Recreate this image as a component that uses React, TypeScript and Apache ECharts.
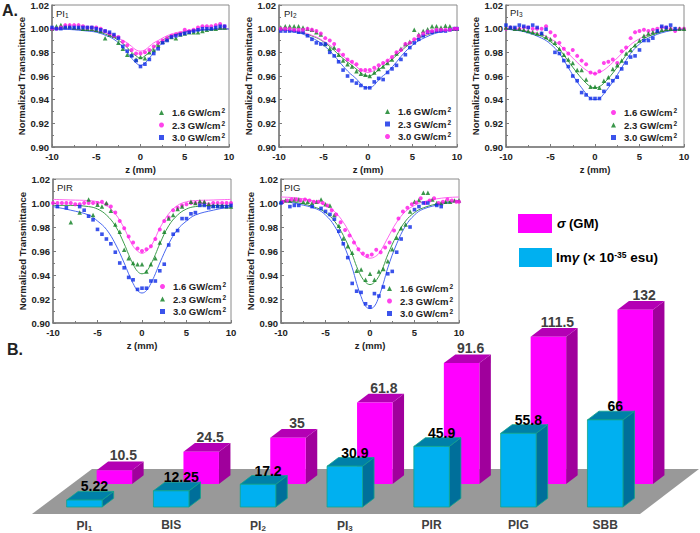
import React, { useEffect, useRef } from "react";
import * as echarts from "echarts";

// z positions (mm)
const Z = [-10,-9.5,-9,-8.5,-8,-7.5,-7,-6.5,-6,-5.5,-5,-4.5,-4,-3.5,-3,-2.5,-2,-1.5,-1,-0.5,0,0.5,1,1.5,2,2.5,3,3.5,4,4.5,5,5.5,6,6.5,7,7.5,8,8.5,9,9.5,10];
const ZS = [-9.8,-9.3,-8.8,-8.3,-7.8,-7.3,-6.8,-6.3,-5.8,-5.3,-4.8,-4.3,-3.8,-3.3,-2.8,-2.3,-1.8,-1.3,-0.8,-0.3,0.2,0.7,1.2,1.7,2.2,2.7,3.2,3.7,4.2,4.7,5.2,5.7,6.2,6.7,7.2,7.7,8.2,8.7,9.2,9.7,10];
const FIT_Z = [0,0.5,1,1.5,2,3,4,5,6,8,10];
const N = null;

const p1Green = [1.000,1.002,1.003,1.002,1.002,1.001,1.001,1.000,1.000,1.000,0.999,0.998,0.992,0.995,0.994,0.988,0.983,0.978,0.978,0.974,0.976,0.975,0.980,0.982,0.986,0.989,0.991,0.993,0.992,0.995,0.996,0.997,0.997,0.997,0.998,0.999,1.000,1.000,1.001,1.001,N];
const p1Magenta = [1.000,1.000,1.001,1.003,1.003,1.003,1.003,1.002,1.001,1.001,1.001,1.000,0.998,0.996,0.994,0.993,0.989,0.986,0.982,0.979,0.979,0.980,0.982,0.985,0.988,0.990,0.992,0.994,0.995,0.996,0.999,0.998,0.999,1.001,1.002,1.002,1.002,1.003,1.004,1.002,N];
const p1Blue = [1.001,1.000,1.000,1.001,1.001,1.001,1.001,1.001,1.001,1.001,1.000,0.999,0.998,0.997,0.995,0.992,0.985,0.981,0.977,0.973,0.968,0.970,0.974,0.979,0.983,0.988,0.990,0.993,0.994,0.995,0.996,0.997,0.998,0.999,1.000,1.000,1.000,1.001,1.002,1.002,N];
const p1FitGreen = [0.975,0.977,0.980,0.984,0.9875,0.9925,0.9955,0.9975,0.9985,0.9995,0.9998];
const p1FitMagenta = [0.981,0.982,0.985,0.988,0.990,0.994,0.9965,0.998,0.9988,0.9996,1.000];
const p1FitBlue = [0.969,0.971,0.975,0.980,0.9845,0.991,0.9945,0.997,0.998,0.9993,0.9998];

const p2Green = [1.001,1.002,1.002,1.002,1.002,1.001,1.000,0.999,0.997,0.995,0.987,0.983,0.984,0.978,0.973,0.970,0.968,0.964,0.962,0.961,0.960,0.963,0.966,0.968,0.971,0.974,0.979,0.983,0.987,0.989,0.999,0.995,0.998,0.9995,1.002,1.002,1.001,1.0025,1.002,1.000,1.000];
const p2Blue = [0.998,0.998,0.998,0.998,0.997,0.997,0.994,0.991,0.988,0.987,0.987,0.980,0.977,0.972,0.965,0.960,0.956,0.954,0.952,0.950,0.950,0.955,0.958,0.957,0.963,0.966,0.969,0.974,0.978,0.984,0.988,0.991,0.994,0.997,0.997,0.998,0.998,0.998,0.999,1.000,1.000];
const p2Magenta = [1.000,1.000,1.000,0.999,0.999,0.999,1.000,0.999,0.998,0.996,0.992,0.990,0.987,0.982,0.978,0.974,0.972,0.970,0.965,0.965,0.965,0.967,0.969,0.971,0.973,0.976,0.980,0.982,0.987,0.988,0.991,0.994,0.996,0.9975,0.998,0.999,0.999,0.999,0.999,1.000,1.000];
const p2FitGreen = [0.960,0.961,0.964,0.967,0.970,0.976,0.983,0.989,0.993,0.9975,0.999];
const p2FitBlue = [0.950,0.951,0.955,0.959,0.962,0.970,0.979,0.986,0.991,0.997,0.999];
const p2FitMagenta = [0.963,0.964,0.966,0.9695,0.972,0.978,0.9845,0.9895,0.9935,0.998,0.999];

const p3Magenta = [1.000,1.001,1.000,1.000,1.001,1.001,1.000,1.000,1.000,1.002,0.997,0.994,0.988,0.983,0.979,0.982,0.977,0.973,0.970,0.963,0.962,0.964,0.971,0.972,0.974,0.971,0.981,0.984,0.992,0.997,0.998,0.999,0.998,0.999,1.000,1.001,1.001,1.000,0.998,1.000,1.000];
const p3Green = [1.001,1.001,1.000,1.000,0.999,0.998,0.997,0.996,0.996,0.993,0.991,0.988,0.983,0.978,0.974,0.971,0.965,0.965,0.957,0.951,0.951,0.950,0.956,0.959,0.966,0.969,0.973,0.979,0.982,0.986,0.990,0.994,0.996,0.997,0.998,0.999,1.000,1.000,1.000,1.000,1.000];
const p3Blue = [1.003,1.001,1.001,1.003,1.002,1.001,1.003,1.001,0.996,0.9995,N,0.980,0.979,0.973,0.968,0.960,0.956,0.946,0.944,0.941,0.941,0.941,0.947,0.953,0.956,0.959,0.966,0.971,0.976,0.977,0.982,0.990,0.990,0.992,0.998,1.002,1.001,1.003,1.000,N,N];
const p3FitMagenta = [0.962,0.963,0.965,0.968,0.9715,0.979,0.9865,0.9915,0.995,0.9985,0.9995];
const p3FitGreen = [0.950,0.951,0.954,0.958,0.9625,0.9725,0.9825,0.989,0.9935,0.998,0.9995];
const p3FitBlue = [0.940,0.941,0.945,0.950,0.955,0.967,0.979,0.987,0.992,0.9975,0.9995];

const pirMagenta = [1.000,1.000,1.000,1.000,1.000,0.999,0.999,1.000,1.000,1.000,1.000,1.001,0.999,0.997,0.992,0.985,0.979,0.972,0.967,0.962,0.960,0.9615,0.964,0.970,0.978,0.985,0.988,0.994,0.996,0.998,0.999,1.000,1.000,1.000,1.000,0.999,1.000,1.000,1.000,1.000,1.000];
const pirGreen = [N,N,N,N,0.984,N,0.992,N,1.003,0.990,0.9985,0.997,1.000,0.9935,0.982,0.976,0.961,0.954,0.950,0.949,0.949,0.943,0.949,0.954,0.967,0.976,0.987,0.990,0.995,0.997,N,1.001,1.000,1.0015,1.001,0.999,0.998,0.998,0.998,0.997,0.997];
const pirBlue = [N,0.997,N,0.996,N,N,0.997,0.994,0.989,0.986,0.978,0.974,0.970,0.966,0.959,0.950,0.946,0.938,0.936,0.928,0.929,0.929,0.935,0.935,0.9435,0.949,0.965,0.974,0.977,0.987,0.987,0.991,0.992,0.998,0.998,0.996,0.997,0.997,0.997,0.997,0.998];
const pirFitMagenta = [0.958,0.960,0.964,0.971,0.979,0.991,0.998,1.001,1.002,1.0025,1.003];
const pirFitGreen = [0.941,0.943,0.949,0.957,0.966,0.981,0.990,0.995,0.997,0.998,0.998];
const pirFitBlue = [0.925,0.927,0.933,0.941,0.950,0.966,0.978,0.985,0.990,0.994,0.997];

const pigGreen = [1.001,1.002,1.002,1.003,1.003,1.001,1.001,1.000,1.001,1.003,0.999,0.998,0.990,0.981,0.9705,0.964,0.9585,0.9435,0.9445,0.936,0.941,0.936,0.943,0.945,0.9515,0.9615,0.971,0.979,0.982,0.993,1.001,1.0025,1.0085,1.0085,1.003,1.000,1.000,1.001,1.001,1.002,1.002];
const pigMagenta = [1.001,1.002,1.003,1.003,1.002,1.003,1.002,1.001,1.001,1.000,0.998,0.994,0.9905,0.984,0.9775,0.973,0.967,0.9615,0.958,0.956,0.957,0.961,0.959,0.963,0.967,0.977,0.987,0.993,0.996,0.999,1.0005,1.004,1.000,1.002,1.004,1.000,1.001,1.003,1.002,1.001,1.001];
const pigBlue = [1.000,N,0.997,0.998,0.998,N,N,0.997,N,0.9955,0.993,0.9905,0.9865,0.9765,0.966,0.9545,0.933,0.9265,0.9255,0.916,0.9135,0.9245,0.9225,0.930,0.941,0.943,0.959,0.970,N,0.980,0.9945,0.997,1.000,1.000,N,0.998,0.997,N,N,N,N];
const pigFitGreen = [0.932,0.934,0.939,0.947,0.957,0.973,0.985,0.992,0.996,1.000,1.002];
const pigFitMagenta = [0.954,0.955,0.958,0.964,0.971,0.984,0.993,0.998,1.001,1.004,1.005];
const pigFitBlue = [0.912,0.914,0.922,0.933,0.946,0.966,0.981,0.990,0.995,0.999,1.002];

// Bars
const barCategories = ["PI1","BIS","PI2","PI3","PIR","PIG","SBB"];
const sigmaValues = [10.5,24.5,35,61.8,91.6,111.5,132];
const imGammaValues = [5.22,12.25,17.2,30.9,45.9,55.8,66];

const LEVELS = ["1.6 GW/cm","2.3 GW/cm","3.0 GW/cm"];
const GREEN = { c: "#0a7d1e", l: "#3c9c4a", s: "triangle", z: 4.5 };
const MAGENTA = { c: "#ff14e6", l: "#ff66f0", s: "circle", z: 4 };
const BLUE = { c: "#0a28e6", l: "#4a68f0", s: "rect", z: 3.6 };

const panels = [
  { key:"PI1", label:"{a|PI}{s|1}", lx:56, ly:13, rect:[52,4,177,143], leg:[159,107], series:[
    {st:GREEN, z:Z, v:p1Green, fit:p1FitGreen}, {st:MAGENTA, z:Z, v:p1Magenta, fit:p1FitMagenta}, {st:BLUE, z:Z, v:p1Blue, fit:p1FitBlue}] },
  { key:"PI2", label:"{a|PI}{s|2}", lx:284, ly:13, rect:[279,4,178,143], leg:[385,106], series:[
    {st:GREEN, z:ZS, v:p2Green, fit:p2FitGreen}, {st:BLUE, z:ZS, v:p2Blue, fit:p2FitBlue}, {st:MAGENTA, z:ZS, v:p2Magenta, fit:p2FitMagenta}] },
  { key:"PI3", label:"{a|PI}{s|3}", lx:510, ly:12, rect:[506,4,178,143], leg:[611,107], series:[
    {st:MAGENTA, z:Z, v:p3Magenta, fit:p3FitMagenta}, {st:GREEN, z:Z, v:p3Green, fit:p3FitGreen}, {st:BLUE, z:Z, v:p3Blue, fit:p3FitBlue}] },
  { key:"PIR", label:"{a|PIR}", lx:57, ly:187, rect:[53,179,178,144], leg:[160,281], series:[
    {st:MAGENTA, z:Z, v:pirMagenta, fit:pirFitMagenta}, {st:GREEN, z:Z, v:pirGreen, fit:pirFitGreen}, {st:BLUE, z:Z, v:pirBlue, fit:pirFitBlue}] },
  { key:"PIG", label:"{a|PIG}", lx:284, ly:187, rect:[281,179,178,144], leg:[387,283], series:[
    {st:GREEN, z:Z, v:pigGreen, fit:pigFitGreen}, {st:MAGENTA, z:ZS, v:pigMagenta, fit:pigFitMagenta}, {st:BLUE, z:Z, v:pigBlue, fit:pigFitBlue}] },
];

const FONT = '"Liberation Sans", Arial, sans-serif';
const AXIS_C = "#7a7a7a";

function buildOption() {
  const grid: any[] = [], xAxis: any[] = [], yAxis: any[] = [], series: any[] = [], legend: any[] = [], graphic: any[] = [];
  panels.forEach((p, i) => {
    grid.push({ left: p.rect[0], top: p.rect[1], width: p.rect[2], height: p.rect[3], show: true, borderColor: "#8a8a8a", borderWidth: 1, backgroundColor: "transparent", containLabel: false });
    xAxis.push({
      type: "value", gridIndex: i, min: -10, max: 10, interval: 5,
      name: "z (mm)", nameLocation: "middle", nameGap: 17,
      nameTextStyle: { fontFamily: FONT, fontWeight: "bold", fontSize: 9.5, color: "#222" },
      axisLine: { show: true, onZero: false, lineStyle: { color: AXIS_C, width: 1.5 } },
      axisTick: { show: true, inside: true, length: 3, lineStyle: { color: AXIS_C } },
      minorTick: { show: true, splitNumber: 2, length: 2, lineStyle: { color: AXIS_C } },
      splitLine: { show: false },
      axisLabel: { fontFamily: FONT, fontWeight: "bold", fontSize: 9.5, color: "#222", margin: 4, showMinLabel: true, showMaxLabel: true },
    });
    yAxis.push({
      type: "value", gridIndex: i, min: 0.9, max: 1.02, interval: 0.02,
      name: "Normalized Transmittance", nameLocation: "middle", nameGap: 23,
      nameTextStyle: { fontFamily: FONT, fontWeight: "bold", fontSize: 9.5, color: "#222" },
      axisLine: { show: true, onZero: false, lineStyle: { color: AXIS_C, width: 1.5 } },
      axisTick: { show: true, inside: true, length: 3, lineStyle: { color: AXIS_C } },
      minorTick: { show: true, splitNumber: 2, length: 2, lineStyle: { color: AXIS_C } },
      splitLine: { show: false },
      axisLabel: { fontFamily: FONT, fontWeight: "bold", fontSize: 9.5, color: "#222", margin: 3, formatter: (v: number) => v.toFixed(2) },
    });
    const names: string[] = [];
    p.series.forEach((s, j) => {
      const name = `${p.key}|${LEVELS[j]}`;
      names.push(name);
      const half = FIT_Z.map((z, k) => [z, s.fit[k]]);
      const fitData = [...half.slice(1).reverse().map(([z, v]) => [-z, v]), ...half];
      series.push({
        type: "line", name: `${name} fit`, xAxisIndex: i, yAxisIndex: i, data: fitData, smooth: 0.4, showSymbol: false, symbol: "none",
        lineStyle: { color: s.st.l, width: 1 }, z: 2, silent: true,
      });
      series.push({
        type: "scatter", name, xAxisIndex: i, yAxisIndex: i, symbol: s.st.s, symbolSize: s.st.z,
        data: s.z.map((z, k) => [z, s.v[k]]).filter((d) => d[1] !== null),
        itemStyle: { color: s.st.c }, z: 3, silent: true,
      });
    });
    legend.push({
      orient: "vertical", left: p.leg[0], top: p.leg[1], padding: 0, itemGap: 2, itemWidth: 5, itemHeight: 5,
      data: names.map((n, j) => ({ name: n, icon: p.series[j].st.s })),
      selectedMode: false,
      formatter: (n: string) => `{a|${n.split("|")[1]}}{b|2}`,
      textStyle: {
        rich: {
          a: { fontFamily: FONT, fontWeight: "bold", fontSize: 9.5, color: "#222", padding: [0, 0, 0, 3], lineHeight: 11 },
          b: { fontFamily: FONT, fontWeight: "bold", fontSize: 6.5, color: "#222", verticalAlign: "top", padding: [0, 0, 0, 1], lineHeight: 7 },
        },
      },
    });
    graphic.push({
      type: "text", x: p.lx, y: p.ly, z: 10,
      style: {
        text: p.label, verticalAlign: "middle",
        rich: {
          a: { fontFamily: FONT, fontSize: 9.5, fill: "#222", color: "#222" },
          s: { fontFamily: FONT, fontSize: 6.5, fill: "#222", color: "#222", verticalAlign: "bottom", padding: [4, 0, 0, 0] },
        },
      },
    });
  });

  // Bars
  const bi = panels.length;
  grid.push({ left: 41, top: 309, width: 607.6, height: 198 });
  xAxis.push({
    type: "category", gridIndex: bi, data: barCategories,
    axisLine: { show: false }, axisTick: { show: false },
    axisLabel: {
      margin: 12, interval: 0,
      formatter: (v: string) => (/^PI\d$/.test(v) ? `{a|PI}{s|${v[2]}}` : `{a|${v}}`),
      rich: {
        a: { fontFamily: FONT, fontWeight: "bold", fontSize: 12, color: "#404040" },
        s: { fontFamily: FONT, fontWeight: "bold", fontSize: 8, color: "#404040", verticalAlign: "bottom", padding: [5, 0, 0, 0] },
      },
    },
  });
  yAxis.push({ type: "value", gridIndex: bi, min: 0, max: 150, show: false, splitLine: { show: false } });

  const renderBar = (cfg: any) => (_: any, api: any) => {
    const i = api.value(0), v = api.value(1);
    const base = api.coord([i, 0]);
    const top = api.coord([i, v]);
    const w = 35.5, dx = 11.5, dy = 8.7;
    const x0 = base[0] - w / 2 + cfg.ox, x1 = x0 + w;
    const yb = base[1] + cfg.oy, yt = top[1] + cfg.oy;
    const st = (fill: string) => ({ fill, stroke: cfg.edge, lineWidth: cfg.edge ? 0.8 : 0 });
    return {
      type: "group",
      children: [
        { type: "polygon", shape: { points: [[x1, yb], [x1 + dx, yb - dy], [x1 + dx, yt - dy], [x1, yt]] }, style: st(cfg.side) },
        { type: "polygon", shape: { points: [[x0, yt], [x1, yt], [x1 + dx, yt - dy], [x0 + dx, yt - dy]] }, style: st(cfg.top) },
        { type: "rect", shape: { x: x0, y: yt, width: w, height: yb - yt }, style: st(cfg.front) },
        {
          type: "text", x: (x0 + x1) / 2 + cfg.lx, y: yt - dy + cfg.ly, z2: 10,
          style: { text: String(cfg.values[i]), fill: cfg.text, fontFamily: FONT, fontSize: 14, fontWeight: cfg.weight, align: "center", verticalAlign: "middle" },
        },
      ],
    };
  };
  series.push({
    type: "custom", name: "σ (GM)", xAxisIndex: bi, yAxisIndex: bi, z: 3, silent: true, clip: false,
    data: sigmaValues.map((v, i) => [i, v]), encode: { x: 0, y: 1 },
    renderItem: renderBar({ ox: 30, oy: -23, front: "#ff00ff", top: "#b400b4", side: "#a0009c", edge: "", values: sigmaValues, text: "#404040", weight: "bold", lx: 9, ly: -6 }),
  });
  series.push({
    type: "custom", name: "Imγ", xAxisIndex: bi, yAxisIndex: bi, z: 4, silent: true, clip: false,
    data: imGammaValues.map((v, i) => [i, v]), encode: { x: 0, y: 1 },
    renderItem: renderBar({ ox: 0, oy: 0, front: "#00b0f0", top: "#0080a8", side: "#006f9a", edge: "#12a58a", values: imGammaValues, text: "#000", weight: "bold", lx: 10, ly: -5 }),
  });

  graphic.push(
    { type: "polygon", z: -1, shape: { points: [[32, 514], [92, 469], [699, 469], [640, 514]] }, style: { fill: "#999999" } },
    { type: "text", x: 2, y: 10, style: { text: "A.", fontFamily: FONT, fontWeight: "bold", fontSize: 16, fill: "#222", verticalAlign: "middle" } },
    { type: "text", x: 7, y: 349, style: { text: "B.", fontFamily: FONT, fontWeight: "bold", fontSize: 16, fill: "#222", verticalAlign: "middle" } },
    { type: "rect", shape: { x: 518, y: 214, width: 34, height: 19 }, style: { fill: "#ff00ff" } },
    { type: "rect", shape: { x: 519, y: 248, width: 33, height: 19 }, style: { fill: "#00b0f0" } },
    { type: "text", x: 557, y: 223, style: { text: "{g|σ} {t|(GM)}", verticalAlign: "middle", rich: {
      g: { fontFamily: FONT, fontStyle: "italic", fontWeight: "bold", fontSize: 13, color: "#222" },
      t: { fontFamily: FONT, fontWeight: "bold", fontSize: 13, color: "#222" } } } },
    { type: "text", x: 556, y: 257, style: { text: "{t|Im}{g|γ}{t| (× 10}{u|-35}{t| esu)}", verticalAlign: "middle", rich: {
      g: { fontFamily: FONT, fontStyle: "italic", fontWeight: "bold", fontSize: 13.5, color: "#222" },
      t: { fontFamily: FONT, fontWeight: "bold", fontSize: 13.5, color: "#222" },
      u: { fontFamily: FONT, fontWeight: "bold", fontSize: 8.5, color: "#222", verticalAlign: "top", lineHeight: 9 } } } },
  );

  return { animation: false, backgroundColor: "#fff", tooltip: { show: false }, grid, xAxis, yAxis, series, legend, graphic };
}

export default function App() {
  const ref = useRef<HTMLDivElement>(null);
  useEffect(() => {
    document.body.style.margin = "0";
    const chart = echarts.init(ref.current!, undefined, { renderer: "svg" });
    chart.setOption(buildOption() as any);
    return () => chart.dispose();
  }, []);
  return <div ref={ref} style={{ width: 700, height: 533 }} />;
}
